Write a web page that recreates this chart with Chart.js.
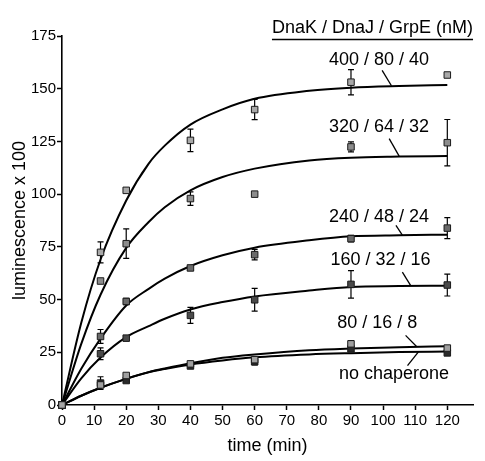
<!DOCTYPE html>
<html><head><meta charset="utf-8">
<script src="https://cdn.jsdelivr.net/npm/chart.js@4.4.0/dist/chart.umd.min.js"></script>
<style>html,body{margin:0;padding:0;background:#fff}#wrap{width:485px;height:461px}</style>
</head><body><div id="wrap"><canvas id="c" width="485" height="461"></canvas></div>
<script>
// ---- data ----
const pointTimes = [0, 12, 20, 40, 60, 90, 120];
const fitTimes = [0, 6, 12, 20, 27, 32, 40, 50, 60, 77, 90, 105, 120];
const seriesNames = ['400 / 80 / 40', '320 / 64 / 32', '240 / 48 / 24', '160 / 32 / 16', '80 / 16 / 8', 'no chaperone'];

const mean400 = [0, 72.4, 101.8, 125.5, 140.1, 153.1, 156.5];
const err400  = [0, 5, 0, 5.3, 4.8, 6, 0];
const mean320 = [0, 58.8, 76.5, 97.9, 100, 122.4, 124.4];
const err320  = [0, 0, 7, 3.2, 0, 2.4, 11];
const mean240 = [0, 32.5, 49.1, 65, 71.3, 78.9, 83.9];
const err240  = [0, 3.3, 1.5, 1, 2.5, 1.5, 5];
const mean160 = [0, 24.3, 31.7, 42.5, 49.9, 57.2, 56.9];
const err160  = [0, 2.8, 1, 3.8, 5.4, 6.5, 5.2];
const mean80  = [0, 9.5, 14, 19.5, 21.5, 29, 27];
const err80   = [0, 0, 0, 0, 0, 1.5, 0];
const meanNone = [0, 10.4, 11.6, 18.5, 20.5, 26.6, 24.7];
const errNone  = [0, 3, 0, 1, 1.5, 0, 0];

const fit400 = [0, 39, 69, 97, 114.5, 123, 133, 140.2, 145.2, 149, 150.5, 151.3, 151.8];
const fit320 = [0, 29, 52.3, 74.5, 86.8, 93.8, 101.8, 108.1, 112.1, 116, 117.3, 117.8, 118.1];
const fit240 = [0, 17.2, 31.5, 47.2, 55.1, 59.9, 65.9, 71, 74.6, 78.1, 80, 80.5, 80.8];
const fit160 = [0, 12.6, 22.5, 32.2, 37.4, 40.9, 45.3, 48.8, 51.5, 54.3, 56, 56.4, 56.6];
const fit80  = [0, 4.4, 8.2, 12.4, 15.6, 17.3, 19.8, 22.4, 24, 26, 26.8, 27.4, 27.9];
const fitNone = [0, 4.4, 8.2, 12.4, 15.5, 17.1, 19.2, 21.1, 22.6, 24, 24.6, 25.1, 25.4];

const yTickValues = [0, 25, 50, 75, 100, 125, 150, 175];
const xTickValues = [0, 10, 20, 30, 40, 50, 60, 70, 80, 90, 100, 110, 120];

// ---- styling ----
const FONT = '"Liberation Sans", Arial, sans-serif';
const means = [mean400, mean320, mean240, mean160, mean80, meanNone];
const errs = [err400, err320, err240, err160, err80, errNone];
const fits = [fit400, fit320, fit240, fit160, fit80, fitNone];
const fills = ['#a8a8a8', '#8c8c8c', '#6a6a6a', '#4a4a4a', '#a0a0a0', '#2a2a2a'];

const datasets = [];
fits.forEach((f, k) => {
  datasets.push({
    type: 'line', label: seriesNames[k] + ' fit',
    data: fitTimes.map((t, i) => ({x: t, y: f[i]})),
    borderColor: '#000', borderWidth: 2, pointRadius: 0, fill: false,
    cubicInterpolationMode: 'monotone', showLine: true, order: 2, clip: false
  });
});
means.forEach((m, k) => {
  datasets.push({
    type: 'scatter', label: seriesNames[k],
    data: pointTimes.map((t, i) => ({x: t, y: m[i]})),
    errors: errs[k],
    pointStyle: 'rect', pointRadius: 4.6, pointHoverRadius: 4.6,
    backgroundColor: fills[k], borderColor: '#1a1a1a', borderWidth: 1,
    showLine: false, order: 1, clip: false
  });
});

// label placement (data coordinates) and leader lines
const labelSpecs = [
  {text: seriesNames[0], x: 98.7, y: 163.5, lead: [[99.7, 158.7], [102.6, 151.4]]},
  {text: seriesNames[1], x: 98.7, y: 131.8, lead: [[101.9, 126.3], [105, 118]]},
  {text: seriesNames[2], x: 98.7, y: 89.1, lead: [[104, 85.2], [106, 80.6]]},
  {text: seriesNames[3], x: 99.2, y: 68.6, lead: [[106, 63], [108.6, 56.6]]},
  {text: seriesNames[4], x: 98.2, y: 38.8, lead: [[107, 33], [110.5, 27.6]]},
  {text: seriesNames[5], x: 103.4, y: 14.5, lead: [[111, 25.2], [107.6, 18.7]]}
];

const errorBarPlugin = {
  id: 'errorBars',
  beforeDatasetsDraw(chart) {
    const {ctx, scales: {x, y}} = chart;
    ctx.save();
    ctx.strokeStyle = '#000';
    ctx.lineWidth = 1.2;
    chart.data.datasets.forEach(ds => {
      if (!ds.errors) return;
      ds.data.forEach((p, i) => {
        const e = ds.errors[i];
        if (!e) return;
        const px = x.getPixelForValue(p.x);
        const y1 = y.getPixelForValue(p.y + e);
        const y2 = y.getPixelForValue(p.y - e);
        ctx.beginPath();
        ctx.moveTo(px, y1); ctx.lineTo(px, y2);
        ctx.moveTo(px - 3, y1); ctx.lineTo(px + 3, y1);
        ctx.moveTo(px - 3, y2); ctx.lineTo(px + 3, y2);
        ctx.stroke();
      });
    });
    ctx.restore();
  }
};

const labelPlugin = {
  id: 'labels',
  afterDraw(chart) {
    const {ctx, chartArea, scales: {x, y}} = chart;
    ctx.save();
    ctx.fillStyle = '#000';
    ctx.strokeStyle = '#000';
    ctx.font = '18px ' + FONT;
    ctx.textAlign = 'center';
    ctx.textBaseline = 'middle';
    labelSpecs.forEach(s => {
      ctx.fillText(s.text, x.getPixelForValue(s.x), y.getPixelForValue(s.y));
      ctx.lineWidth = 1.3;
      ctx.beginPath();
      ctx.moveTo(x.getPixelForValue(s.lead[0][0]), y.getPixelForValue(s.lead[0][1]));
      ctx.lineTo(x.getPixelForValue(s.lead[1][0]), y.getPixelForValue(s.lead[1][1]));
      ctx.stroke();
    });
    // header
    const hx = chartArea.right - 100.5;
    const hy = chartArea.top - 8;
    ctx.fillText('DnaK / DnaJ / GrpE (nM)', hx, hy);
    const w = ctx.measureText('DnaK / DnaJ / GrpE (nM)').width;
    ctx.lineWidth = 1.6;
    ctx.beginPath();
    ctx.moveTo(hx - w / 2, chartArea.top + 3.5);
    ctx.lineTo(hx + w / 2, chartArea.top + 3.5);
    ctx.stroke();
    ctx.restore();
  }
};

Chart.defaults.font.family = FONT;
Chart.defaults.color = '#000';

new Chart(document.getElementById('c'), {
  type: 'scatter',
  data: {datasets},
  options: {
    responsive: false,
    devicePixelRatio: 1,
    animation: false,
    events: [],
    layout: {padding: {top: 36, right: 12, left: 0, bottom: 0}},
    plugins: {legend: {display: false}, tooltip: {enabled: false}},
    scales: {
      x: {
        type: 'linear', min: 0, max: 128,
        afterBuildTicks: s => { s.ticks = xTickValues.map(v => ({value: v})); },
        afterFit: s => { s.height = 56; },
        ticks: {font: {size: 15}, color: '#000', padding: 2, maxRotation: 0, autoSkip: false},
        grid: {display: true, drawOnChartArea: false, drawTicks: true, tickLength: 5, tickColor: '#000', tickWidth: 1.5},
        border: {display: true, color: '#000', width: 1.6},
        title: {display: true, text: 'time (min)', font: {size: 18}, color: '#000', padding: {top: 0, bottom: 4}}
      },
      y: {
        type: 'linear', min: 0, max: 175,
        afterBuildTicks: s => { s.ticks = yTickValues.map(v => ({value: v})); },
        afterFit: s => { s.width = 62; },
        ticks: {font: {size: 15}, color: '#000', padding: 1, autoSkip: false},
        grid: {display: true, drawOnChartArea: false, drawTicks: true, tickLength: 5, tickColor: '#000', tickWidth: 1.5},
        border: {display: true, color: '#000', width: 1.6},
        title: {display: true, text: 'luminescence x 100', font: {size: 18}, color: '#000', padding: {top: 9, bottom: 0}}
      }
    }
  },
  plugins: [errorBarPlugin, labelPlugin]
});
</script>
</body></html>
